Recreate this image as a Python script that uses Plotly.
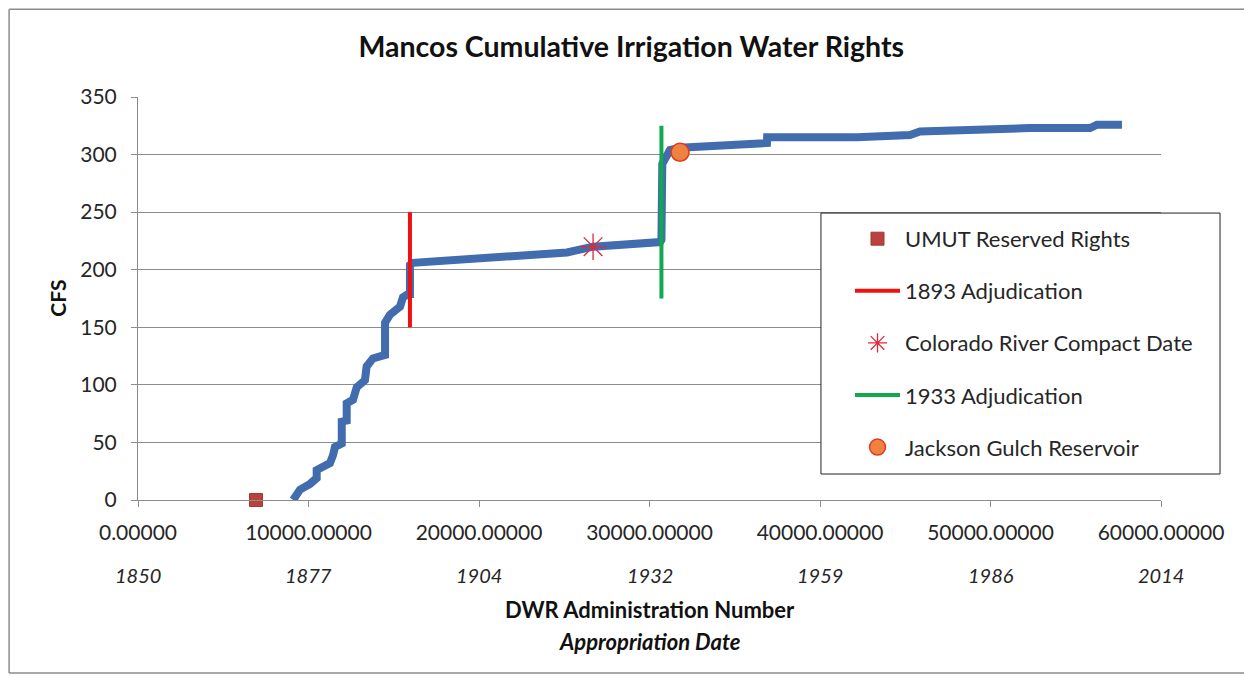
import plotly.graph_objects as go

# cumulative irrigation rights curve (admin number vs cfs)
admin_no = [9100, 9500, 10090, 10480, 10480, 11260, 11440, 11550, 11950, 11950,
            12240, 12240, 12610, 12830, 13310, 13410, 13780, 14490, 14490, 14780,
            15370, 15540, 15840, 15950, 15950, 16130, 25160, 26690, 30620, 30700,
            30750, 31200, 31790, 36890, 36900, 42170, 45280, 45860, 52320, 55840,
            56250, 57710]
cfs = [0, 9, 14, 19, 26, 32, 39, 46, 49, 68,
       69, 84, 87, 98, 104, 116, 123, 126, 154, 161,
       168, 176, 179, 179, 204, 206, 215, 220, 224, 226,
       292, 304, 306, 310, 315, 315, 317, 320, 323, 323,
       326, 326]

umut_x, umut_y = [6920], [0]
adj1893_x, adj1893_y = [15950, 15950], [150, 250]
compact_x, compact_y = [26690], [220]
adj1933_x, adj1933_y = [30700, 30700], [175, 325]
jackson_x, jackson_y = [31790], [302]

x_ticks = [0, 10000, 20000, 30000, 40000, 50000, 60000]
x_ticktext = ["%.5f" % v for v in x_ticks]
year_labels = ["1850", "1877", "1904", "1932", "1959", "1986", "2014"]
y_ticks = [0, 50, 100, 150, 200, 250, 300, 350]

FONT = "Lato"
TXT = "#262626"

fig = go.Figure()

fig.add_trace(go.Scatter(x=admin_no, y=cfs, mode="lines", showlegend=False,
                         line=dict(color="#416CAE", width=8), hoverinfo="x+y"))
fig.add_trace(go.Scatter(x=umut_x, y=umut_y, mode="markers", name="UMUT Reserved Rights",
                         legendgroup="a",
                         marker=dict(symbol="square", size=13, color="#B9413E",
                                     line=dict(color="#A33A37", width=1)), cliponaxis=False))
fig.add_trace(go.Scatter(x=adj1893_x, y=adj1893_y, mode="lines", name="1893 Adjudication",
                         legendgroup="b", line=dict(color="#F01010", width=4)))
fig.add_trace(go.Scatter(x=compact_x, y=compact_y, mode="markers", name="Colorado River Compact Date",
                         legendgroup="c",
                         marker=dict(symbol="asterisk-open", size=22, color="#E0283C",
                                     line=dict(color="#E0283C", width=1.3))))
fig.add_trace(go.Scatter(x=adj1933_x, y=adj1933_y, mode="lines", name="1933 Adjudication",
                         legendgroup="d", line=dict(color="#12A84E", width=4)))
fig.add_trace(go.Scatter(x=jackson_x, y=jackson_y, mode="markers", name="Jackson Gulch Reservoir",
                         legendgroup="e",
                         marker=dict(symbol="circle", size=18, color="#EE8240",
                                     line=dict(color="#E03A22", width=1.5))))

annotations = []
for xv, yr in zip(x_ticks, year_labels):
    annotations.append(dict(x=xv, y=-0.186, xref="x", yref="paper", text="<i>%s</i>" % yr,
                            showarrow=False, font=dict(family=FONT, size=20, color=TXT),
                            xanchor="center", yanchor="middle"))
annotations += [
    dict(x=0.5, y=-0.271, xref="paper", yref="paper", text="<b>DWR Administration Number</b>",
         showarrow=False, font=dict(family=FONT, size=22, color="#111111"), yanchor="middle"),
    dict(x=0.5, y=-0.35, xref="paper", yref="paper", text="<b><i>Appropriation Date</i></b>",
         showarrow=False, font=dict(family=FONT, size=22, color="#111111"), yanchor="middle"),
    dict(x=-0.079, y=0.5, xref="paper", yref="paper", text="<b>CFS</b>", textangle=-90,
         showarrow=False, font=dict(family=FONT, size=21, color="#111111"),
         xanchor="center", yanchor="middle"),
]

frame = dict(color="#8C8C8C", width=1.5)
shapes = [
    # outer chart frame: left, top, bottom (right edge runs off the picture)
    dict(type="line", xref="paper", yref="paper", x0=-0.126, x1=-0.126, y0=-0.429, y1=1.218,
         line=frame, layer="below"),
    dict(type="line", xref="paper", yref="paper", x0=-0.126, x1=1.09, y0=1.218, y1=1.218,
         line=frame, layer="below"),
    dict(type="line", xref="paper", yref="paper", x0=-0.126, x1=1.09, y0=-0.429, y1=-0.429,
         line=frame, layer="below"),
    # legend box
    dict(type="rect", xref="paper", yref="paper", x0=0.6676, x1=1.0577, y0=0.0645, y1=0.712,
         line=dict(color="#222222", width=1), fillcolor="white", layer="above"),
]

fig.update_layout(
    width=1244, height=668,
    margin=dict(l=130, r=91, t=89, b=176),
    paper_bgcolor="white", plot_bgcolor="white",
    font=dict(family=FONT, size=20, color=TXT),
    title=dict(text="<b>Mancos Cumulative Irrigation Water Rights</b>", x=0.501, xref="container",
               y=0.942, yref="container", xanchor="center", yanchor="middle",
               font=dict(family=FONT, size=28.5, color="#111111")),
    xaxis=dict(range=[0, 60000], tickvals=x_ticks, ticktext=x_ticktext, showgrid=False,
               showline=True, linecolor="#8C8C8C", linewidth=1, ticks="outside", ticklen=6,
               tickcolor="#8C8C8C", zeroline=False, ticklabelstandoff=8,
               tickfont=dict(size=21)),
    yaxis=dict(range=[0, 350], tickvals=y_ticks, showgrid=True, gridcolor="#8C8C8C", gridwidth=1,
               showline=True, linecolor="#8C8C8C", linewidth=1, ticks="outside", ticklen=6,
               tickcolor="#8C8C8C", zeroline=False, ticklabelstandoff=10,
               tickfont=dict(size=21)),
    legend=dict(x=0.696, y=0.7, xanchor="left", yanchor="top", bgcolor="rgba(0,0,0,0)",
                borderwidth=0, traceorder="grouped", tracegroupgap=20.5, itemwidth=45,
                font=dict(family=FONT, size=22, color=TXT)),
    annotations=annotations,
    shapes=shapes,
)

fig.write_html("out.html")
